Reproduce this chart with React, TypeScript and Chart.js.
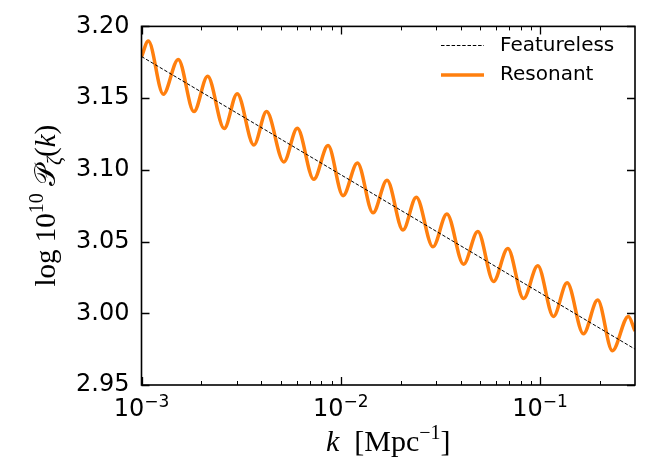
import React, { useEffect, useRef } from "react";
import { Chart, registerables } from "chart.js";

Chart.register(...registerables);

// Resonant spectrum: extrema (k in Mpc^-1, value)
const RES_K = [0.001, 0.0010817, 0.001286, 0.001529, 0.001833, 0.002147, 0.0026, 0.003022, 0.003664, 0.004242, 0.00518, 0.006053, 0.007322, 0.008635, 0.01027, 0.01213, 0.01452, 0.01707, 0.02053, 0.02395, 0.02903, 0.0341, 0.04135, 0.04877, 0.05846, 0.06897, 0.0827, 0.0975, 0.1169, 0.1369, 0.1652, 0.1949, 0.2309, 0.2778, 0.3];
const RES_V = [3.1788, 3.1898, 3.1527, 3.177, 3.1406, 3.1652, 3.1288, 3.1531, 3.1173, 3.1406, 3.1055, 3.129, 3.0934, 3.1169, 3.082, 3.1048, 3.07, 3.0928, 3.0581, 3.0809, 3.0463, 3.0692, 3.0342, 3.057, 3.0222, 3.0452, 3.0103, 3.0331, 2.9978, 3.0212, 2.9857, 3.0092, 2.9739, 2.9978, 2.9876];

// Featureless spectrum
const FEAT_K = [0.001, 0.3];
const FEAT_V = [3.179, 2.975];

// Axis ticks
const Y_TICKS = [2.95, 3.0, 3.05, 3.1, 3.15, 3.2];
const X_MAJOR_TICKS = [0.001, 0.01, 0.1];
const X_TICK_EXPONENTS = ["\u22123", "\u22122", "\u22121"];
const X_MIN = 0.001;
const X_MAX = 0.3;

const SANS = '"DejaVu Sans", sans-serif';
const SERIF = '"Liberation Serif", "DejaVu Serif", serif';

type Part = { t: string; font: string; dy?: number };

function drawParts(ctx: CanvasRenderingContext2D, parts: Part[], cx: number, baseY: number) {
  let total = 0;
  const widths = parts.map((p) => {
    ctx.font = p.font;
    const w = ctx.measureText(p.t).width;
    total += w;
    return w;
  });
  let x = cx - total / 2;
  ctx.textAlign = "left";
  ctx.textBaseline = "alphabetic";
  parts.forEach((p, i) => {
    ctx.font = p.font;
    ctx.fillText(p.t, x, baseY + (p.dy || 0));
    x += widths[i];
  });
}

const decor = {
  id: "decor",
  afterDraw(chart: any) {
    const ctx: CanvasRenderingContext2D = chart.ctx;
    const { left, right, top, bottom } = chart.chartArea;
    const xs = chart.scales.x;
    const ys = chart.scales.y;
    ctx.save();
    ctx.strokeStyle = "#000";
    ctx.fillStyle = "#000";
    ctx.lineWidth = 1.3;
    ctx.beginPath();
    Y_TICKS.forEach((v) => {
      const py = Math.round(ys.getPixelForValue(v)) + 0.5;
      ctx.moveTo(left, py);
      ctx.lineTo(left + 8, py);
      ctx.moveTo(right, py);
      ctx.lineTo(right - 8, py);
    });
    X_MAJOR_TICKS.forEach((v) => {
      const px = Math.round(xs.getPixelForValue(v)) + 0.5;
      ctx.moveTo(px, bottom);
      ctx.lineTo(px, bottom - 8);
      ctx.moveTo(px, top);
      ctx.lineTo(px, top + 8);
    });
    ctx.stroke();
    ctx.lineWidth = 1;
    ctx.beginPath();
    X_MAJOR_TICKS.forEach((d) => {
      for (let m = 2; m <= 9; m++) {
        const v = m * d;
        if (v < X_MIN || v > X_MAX) continue;
        const px = Math.round(xs.getPixelForValue(v)) + 0.5;
        ctx.moveTo(px, bottom);
        ctx.lineTo(px, bottom - 4);
        ctx.moveTo(px, top);
        ctx.lineTo(px, top + 4);
      }
    });
    ctx.stroke();
    ctx.lineWidth = 1.6;
    ctx.strokeRect(left, top, right - left, bottom - top);

    // x tick labels 10^n
    X_MAJOR_TICKS.forEach((v, i) => {
      const px = xs.getPixelForValue(v);
      drawParts(
        ctx,
        [
          { t: "10", font: `24px ${SANS}` },
          { t: X_TICK_EXPONENTS[i], font: `17px ${SANS}`, dy: -9 },
        ],
        px,
        bottom + 31
      );
    });

    // x title
    drawParts(
      ctx,
      [
        { t: "k", font: `italic 30px ${SERIF}` },
        { t: "  [Mpc", font: `30px ${SERIF}` },
        { t: "\u22121", font: `20px ${SERIF}`, dy: -12 },
        { t: "]", font: `30px ${SERIF}` },
      ],
      (left + right) / 2,
      bottom + 66
    );

    // y title (rotated)
    ctx.save();
    ctx.translate(55, (top + bottom) / 2);
    ctx.rotate(-Math.PI / 2);
    drawParts(
      ctx,
      [
        { t: "log 10", font: `29px ${SERIF}` },
        { t: "10", font: `20px ${SERIF}`, dy: -12 },
        { t: " \uD835\uDCAB", font: `29px ${SERIF}` },
        { t: "\u03B6", font: `italic 20px ${SERIF}`, dy: 6 },
        { t: "(", font: `29px ${SERIF}` },
        { t: "k", font: `italic 29px ${SERIF}` },
        { t: ")", font: `29px ${SERIF}` },
      ],
      0,
      0
    );
    ctx.restore();

    // legend
    ctx.lineWidth = 1;
    ctx.setLineDash([3.5, 1.8]);
    ctx.beginPath();
    ctx.moveTo(441, 45.5);
    ctx.lineTo(484, 45.5);
    ctx.stroke();
    ctx.setLineDash([]);
    ctx.strokeStyle = "#ff7f0e";
    ctx.lineWidth = 3.5;
    ctx.beginPath();
    ctx.moveTo(441, 75);
    ctx.lineTo(484, 75);
    ctx.stroke();
    ctx.fillStyle = "#000";
    ctx.font = `20px ${SANS}`;
    ctx.textAlign = "left";
    ctx.textBaseline = "middle";
    ctx.fillText("Featureless", 500, 46);
    ctx.fillText("Resonant", 500, 75);
    ctx.restore();
  },
};

export default function App() {
  const ref = useRef<HTMLCanvasElement | null>(null);
  useEffect(() => {
    document.body.style.margin = "0";
    document.body.style.overflow = "hidden";
    const canvas = ref.current;
    if (!canvas) return;
    const chart = new Chart(canvas, {
      type: "line",
      data: {
        datasets: [
          {
            label: "Featureless",
            data: FEAT_K.map((k, i) => ({ x: k, y: FEAT_V[i] })),
            borderColor: "#000",
            borderWidth: 1,
            borderDash: [3.5, 1.8],
            pointRadius: 0,
            fill: false,
            order: 0,
          },
          {
            label: "Resonant",
            data: RES_K.map((k, i) => ({ x: k, y: RES_V[i] })),
            borderColor: "#ff7f0e",
            borderWidth: 3.5,
            pointRadius: 0,
            fill: false,
            cubicInterpolationMode: "monotone",
            order: 1,
          },
        ],
      },
      options: {
        animation: false,
        responsive: false,
        layout: { padding: { top: 19, right: 14, left: 0, bottom: 0 } },
        plugins: { legend: { display: false }, tooltip: { enabled: false } },
        scales: {
          x: {
            type: "logarithmic",
            min: X_MIN,
            max: X_MAX,
            grid: { display: false, drawTicks: false },
            border: { display: false },
            ticks: { display: false },
            afterFit: (s: any) => {
              s.height = 86;
            },
          },
          y: {
            type: "linear",
            min: 2.95,
            max: 3.2,
            grid: { display: false, drawTicks: false },
            border: { display: false },
            ticks: {
              stepSize: 0.05,
              color: "#000",
              padding: 12,
              font: { family: "DejaVu Sans", size: 24 },
              callback: (v: any) => Number(v).toFixed(2),
            },
            afterFit: (s: any) => {
              s.width = 141.5;
            },
          },
        },
      },
      plugins: [decor],
    });
    return () => chart.destroy();
  }, []);
  return <canvas ref={ref} width={649} height={471} style={{ display: "block" }} />;
}
